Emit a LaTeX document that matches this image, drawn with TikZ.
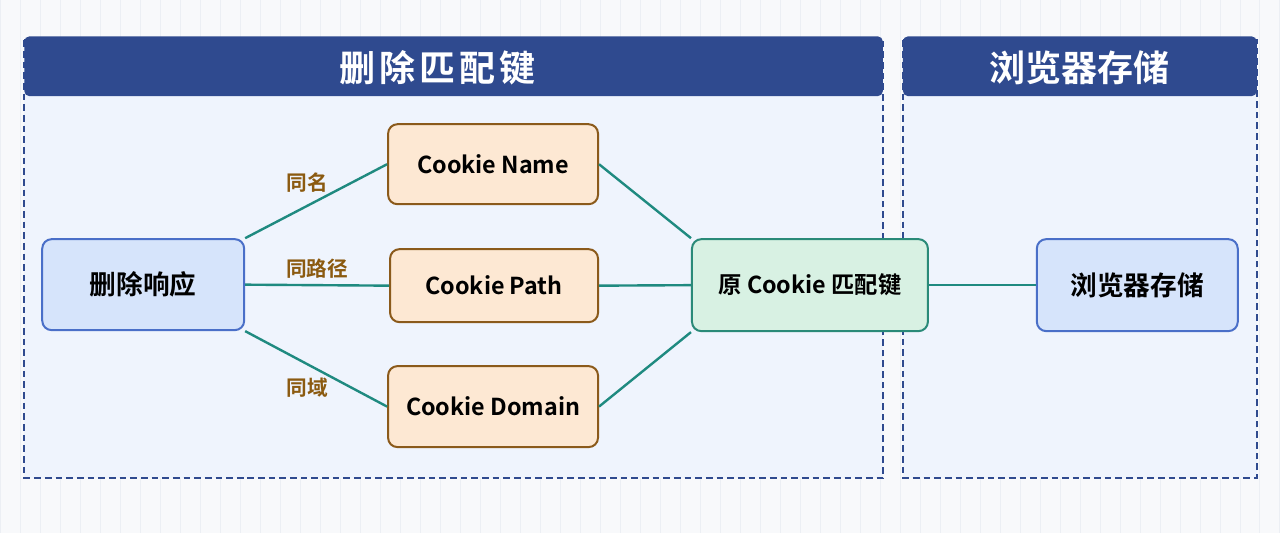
\documentclass[tikz,border=0pt]{standalone}
\usepackage{fontspec}
\setmainfont{Noto Sans CJK SC}[BoldFont={Noto Sans CJK SC Bold}]
\begin{document}
\begin{tikzpicture}[x=0.75pt,y=-0.75pt,
  box/.style={rounded corners=7pt,line width=1.5pt,font=\bfseries\fontsize{17.5}{20}\selectfont,inner sep=0},
  cjk/.style={font=\bfseries\fontsize{20}{24}\selectfont},
  blue/.style={box,fill=blueF,draw=blueD},
  orange/.style={box,fill=orF,draw=orD},
  green/.style={box,fill=grF,draw=grD},
  edge/.style={draw=teal2,line width=1.8pt},
  lab/.style={text=labC,font=\bfseries\fontsize{15.5}{18}\selectfont},
  cont/.style={draw=hdr,dash pattern=on 5pt off 3pt,line width=1.2pt,fill=contF},
  head/.style={fill=hdr,rounded corners=4pt},
  htxt/.style={text=white,font=\bfseries\fontsize{27}{30}\selectfont}]
\definecolor{bg}{HTML}{F8F9FB}
\definecolor{gridc}{HTML}{ECEFF4}
\definecolor{hdr}{HTML}{2F4A8F}
\definecolor{contF}{HTML}{EFF4FD}
\definecolor{blueF}{HTML}{D6E4FB}
\definecolor{blueD}{HTML}{4A6FC8}
\definecolor{orF}{HTML}{FDE8D3}
\definecolor{orD}{HTML}{8B5A1B}
\definecolor{grF}{HTML}{D8F1E3}
\definecolor{grD}{HTML}{2A8A78}
\definecolor{teal2}{HTML}{1F8A80}
\definecolor{labC}{HTML}{8B5A10}
\fill[bg] (0,0) rectangle (1280,533);
\draw[gridc,step=20] (0,0) grid (1280,533);
\useasboundingbox (0,0) rectangle (1280,533);
% containers
\draw[cont] (24,40) rectangle (883,478);
\fill[head] (24,36) rectangle (883,96);
\node[htxt] (h1) at (437,68) {删\hspace{3pt}除\hspace{3pt}匹\hspace{3pt}配\hspace{3pt}键};
\draw[cont] (903,40) rectangle (1257,478);
\fill[head] (903,36) rectangle (1257,96);
\node[htxt] (h2) at (1080,68) {浏览器存储};
% nodes
\node[blue,cjk,minimum width=202*0.75pt,minimum height=91*0.75pt] (del) at (143,284.5) {删除响应};
\node[orange,minimum width=210*0.75pt,minimum height=80*0.75pt] (cn) at (493,164) {Cookie Name};
\node[orange,minimum width=208*0.75pt,minimum height=73*0.75pt] (cp) at (494,285.5) {Cookie Path};
\node[orange,minimum width=210*0.75pt,minimum height=81*0.75pt] (cd) at (493,406.5) {Cookie Domain};
\node[green,minimum width=236*0.75pt,minimum height=92*0.75pt] (key) at (810,285) {原 Cookie 匹配键};
\node[blue,cjk,minimum width=201*0.75pt,minimum height=92*0.75pt] (br) at (1137.5,285) {浏览器存储};
% edges
\draw[edge] (del.north east) -- (cn.west);
\draw[edge] (del.east) -- (cp.west);
\draw[edge] (del.south east) -- (cd.west);
\draw[edge] (cn.east) -- (key.north west);
\draw[edge] (cp.east) -- (key.west);
\draw[edge] (cd.east) -- (key.south west);
\draw[edge] (key.east) -- (br.west);
\node[lab] (l1) at (307,182) {同名};
\node[lab] (l2) at (317,268) {同路径};
\node[lab] (l3) at (307,388) {同域};
\end{tikzpicture}
\end{document}
